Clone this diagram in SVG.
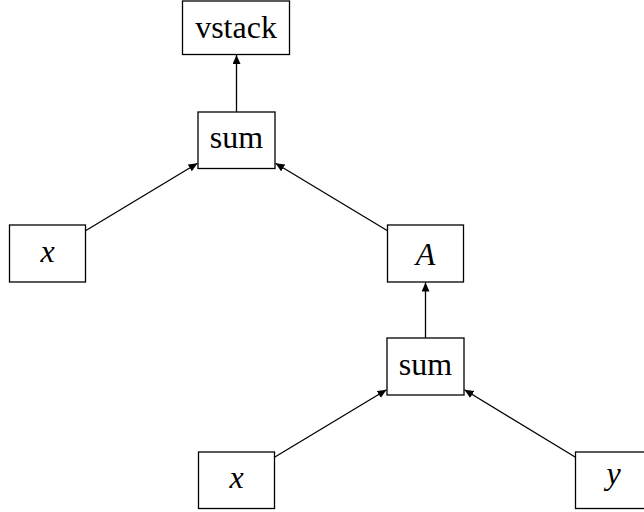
<svg xmlns="http://www.w3.org/2000/svg" width="644" height="512" viewBox="0 0 644 512">
<style>
.box{fill:#fff;stroke:#000;stroke-width:1.3}
.t{font-family:"Liberation Serif","Times New Roman",serif;font-size:32px;fill:#000;text-anchor:middle}
.i{font-style:italic}
.e{stroke:#000;stroke-width:1.3;fill:none;marker-end:url(#ah)}
</style>
<defs>
<marker id="ah" markerUnits="userSpaceOnUse" markerWidth="12" markerHeight="10" refX="9" refY="4" orient="auto">
<path d="M0,0 L9,4 L0,8 Z" fill="#000"/>
</marker>
</defs>
<g id="connectors">
<line class="e" x1="236.5" y1="112" x2="236.5" y2="55"/>
<line class="e" x1="85.5" y1="230.7" x2="197.5" y2="163.3"/>
<line class="e" x1="387.5" y1="230.7" x2="275.5" y2="163.3"/>
<line class="e" x1="425.5" y1="338" x2="425.5" y2="282.5"/>
<line class="e" x1="274.5" y1="457.2" x2="386.5" y2="389.8"/>
<line class="e" x1="575.5" y1="457.2" x2="464.5" y2="389.8"/>
</g>
<g id="vstack"><rect class="box" x="182.5" y="1" width="107" height="53.5"/><text class="t" x="236" y="38">vstack</text></g>
<g id="sum1"><rect class="box" x="198" y="112" width="77" height="56.5"/><text class="t" x="236.5" y="148">sum</text></g>
<g id="x1"><rect class="box" x="9.5" y="225" width="76" height="57"/><text class="t i" x="47.5" y="261.5">x</text></g>
<g id="A"><rect class="box" x="387.5" y="225" width="76" height="57"/><text class="t i" x="425.5" y="264.5">A</text></g>
<g id="sum2"><rect class="box" x="387" y="338" width="77" height="57"/><text class="t" x="425.5" y="374.5">sum</text></g>
<g id="x2"><rect class="box" x="198.5" y="452" width="76" height="56.5"/><text class="t i" x="236.5" y="488">x</text></g>
<g id="y"><rect class="box" x="575.5" y="452" width="76" height="56.5"/><text class="t i" x="613.5" y="483.5">y</text></g>
</svg>
